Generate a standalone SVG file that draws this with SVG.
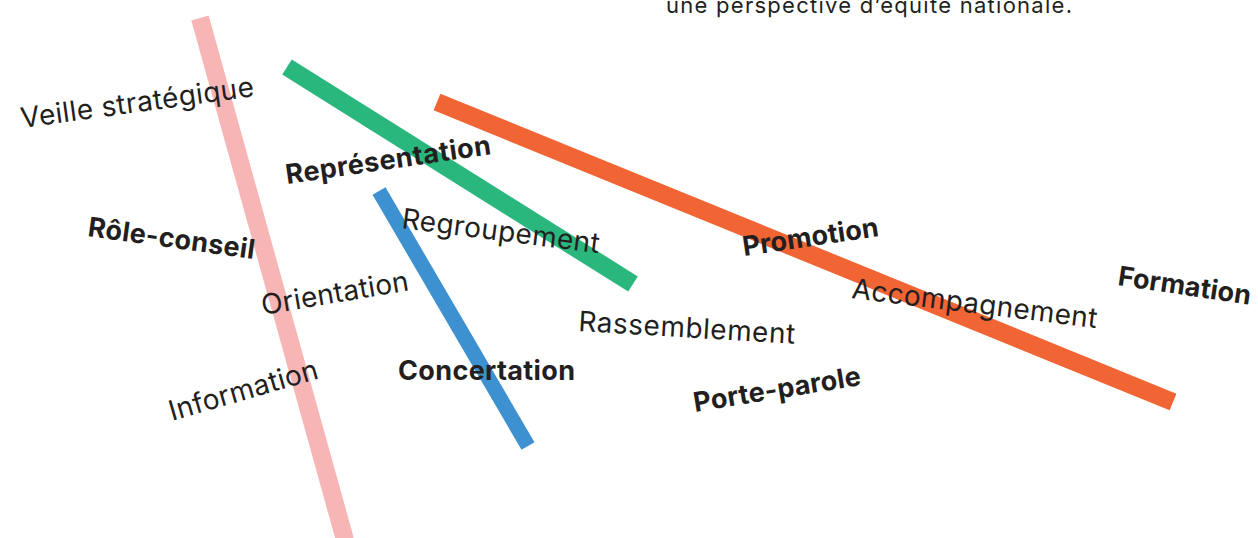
<svg xmlns="http://www.w3.org/2000/svg" width="1258" height="538" viewBox="0 0 1258 538">
<style>
.t{font-family:Inter,"Noto Sans","Liberation Sans",sans-serif;fill:#231f20}
.r{font-weight:400;font-size:28px}
.b{font-weight:700;font-size:27px}
.bar{fill:none;stroke-linecap:butt}
</style>
<rect width="1258" height="538" fill="#ffffff"/>
<g id="bars">
<line id="bar-pink" class="bar" x1="200" y1="18" x2="345" y2="540" stroke="#f7b5b5" stroke-width="18"/>
<line id="bar-green" class="bar" x1="287" y1="67" x2="633" y2="284" stroke="#2ab77e" stroke-width="18"/>
<line id="bar-blue" class="bar" x1="379" y1="191" x2="528" y2="446" stroke="#3d91d0" stroke-width="15"/>
<line id="bar-orange" class="bar" x1="437" y1="102" x2="1173" y2="402" stroke="#f16434" stroke-width="18"/>
</g>
<g id="intro"><text class="t" x="666" y="13" font-size="22" textLength="406" lengthAdjust="spacing">une perspective d’équité nationale.</text></g>
<g id="veille"><text class="t r" transform="translate(22,128) rotate(-7.8)" textLength="235">Veille stratégique</text></g>
<g id="representation"><text class="t b" transform="translate(287,184) rotate(-8.3)" textLength="207">Représentation</text></g>
<g id="role-conseil"><text class="t b" transform="translate(87,236) rotate(7.9)" textLength="168">Rôle-conseil</text></g>
<g id="regroupement"><text class="t r" transform="translate(401,228) rotate(7.3)" textLength="199">Regroupement</text></g>
<g id="orientation"><text class="t r" transform="translate(263,315) rotate(-9.6)" textLength="149">Orientation</text></g>
<g id="information"><text class="t r" transform="translate(172,421) rotate(-16.2)" textLength="154">Information</text></g>
<g id="concertation"><text class="t b" transform="translate(398,380) rotate(0)" textLength="177">Concertation</text></g>
<g id="rassemblement"><text class="t r" transform="translate(578,331) rotate(3.4)" textLength="217">Rassemblement</text></g>
<g id="promotion"><text class="t b" transform="translate(744,256) rotate(-8.4)" textLength="137">Promotion</text></g>
<g id="accompagnement"><text class="t r" transform="translate(851,298) rotate(7)" textLength="247">Accompagnement</text></g>
<g id="formation"><text class="t b" transform="translate(1117,285) rotate(8.5)" textLength="134">Formation</text></g>
<g id="porte-parole"><text class="t b" transform="translate(695,412) rotate(-9.2)" textLength="169">Porte-parole</text></g>
</svg>
